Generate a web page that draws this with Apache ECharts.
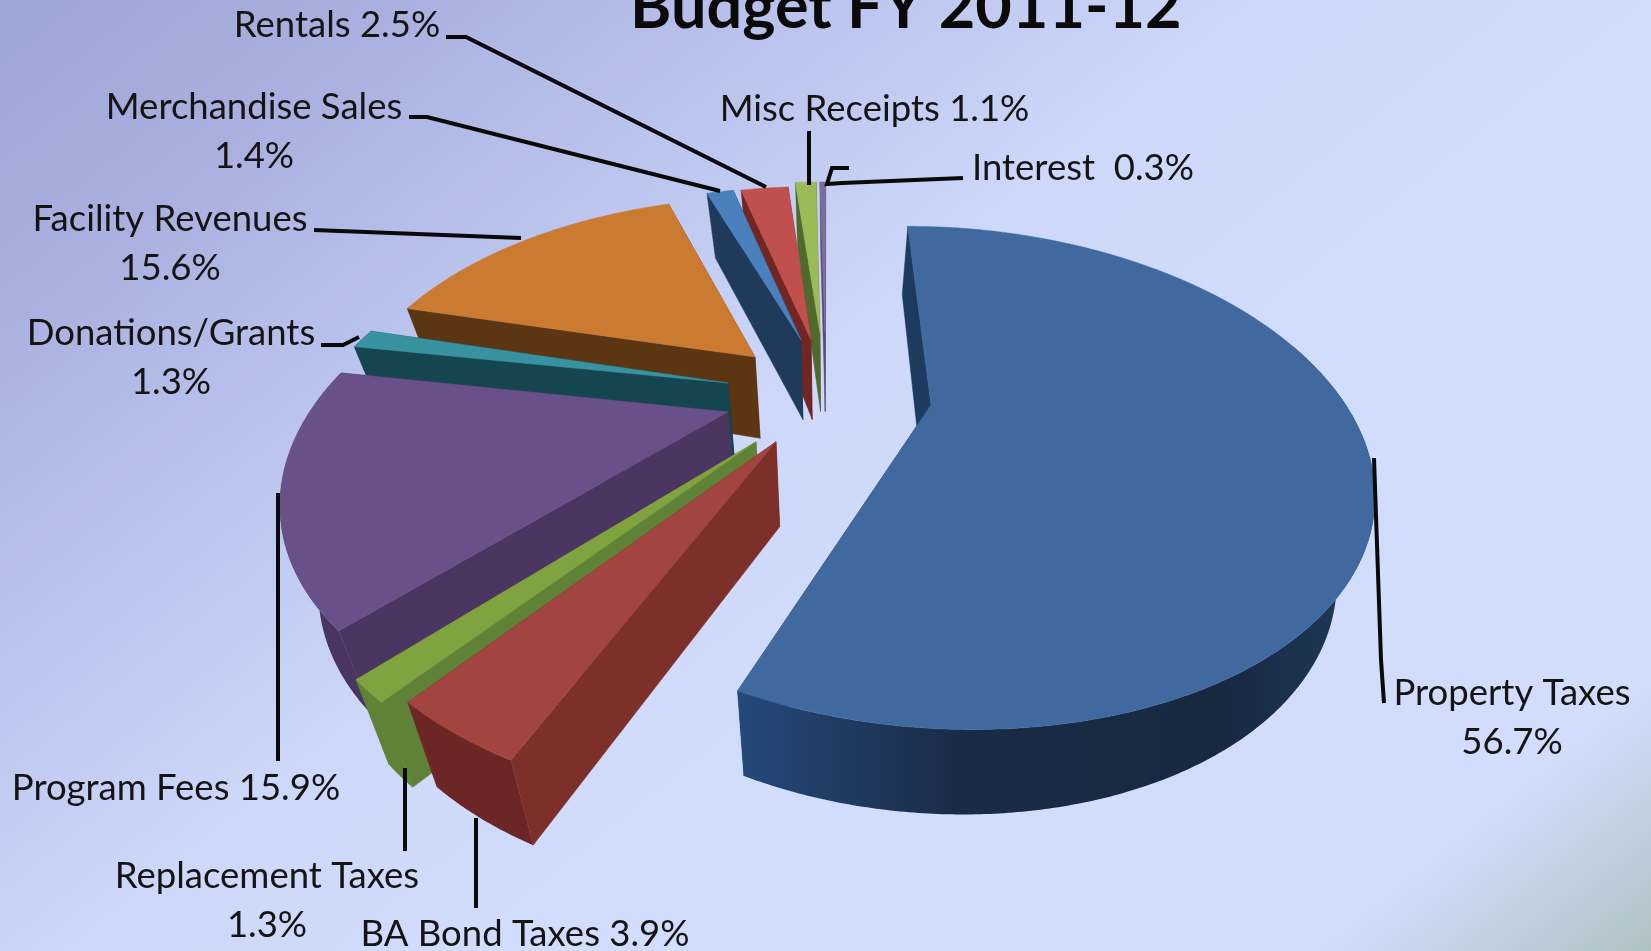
<!DOCTYPE html>
<html>
<head>
<meta charset="utf-8">
<title>Budget FY 2011-12</title>
<style>html,body{margin:0;padding:0;width:100%;height:100%;overflow:hidden}#c{width:1651px;height:951px}</style>
<script src="https://cdn.jsdelivr.net/npm/echarts@6/dist/echarts.min.js"></script>
</head>
<body>
<div id="c"></div>
<script>
// ---- data ----
const chartTitle = 'Budget FY 2011-12';
const categories = ['Property Taxes','BA Bond Taxes','Replacement Taxes','Program Fees','Donations/Grants','Facility Revenues','Merchandise Sales','Rentals','Misc Receipts','Interest'];
const values = [56.7,3.9,1.3,15.9,1.3,15.6,1.4,2.5,1.1,0.3];
const labelSeparators = ['\n',' ','\n',' ','\n','\n','\n',' ',' ','  '];

// ---- styles ----
const topColors  = ['#406a9f','#a24440','#7fa33f','#6a5088','#38929f','#cb7a32','#4a80bd','#c0504d','#9bbb59','#7d6a9f'];
const sideColors = ['#1d3a5f','#7d2f29','#5f8236','#4b3662','#154650','#5c3512','#1f3a5a','#732524','#4f6a2a','#5a4a73'];
const rimColors  = ['#1b3049','#6b2625','#5f8236','#4a3560','#154650','#5c3512','#1f3a5a','#732524','#4f6a2a','#5a4a73'];

// ---- layout: plane offset of every exploded slice, label centres, leader lines ----
const explodeX = [0.2483,-0.1198,-0.1659,-0.2390,-0.2479,-0.1873,-0.0708,-0.0446,-0.0213,-0.0079];
const explodeY = [0.0573,0.21,0.2102,0.0874,-0.0409,-0.1642,-0.2497,-0.2497,-0.2874,-0.2874];
const labelX = [1512,525,267,176,171,170,254,337,874.5,1083];
const labelY = [718,934,901,788,358,244,132,25,109,168];
const leaders = [
  [[1374,458],[1381,660],[1384,703]],
  [[476,818],[476,908]],
  [[405,768],[405,851]],
  [[278,493],[278,761]],
  [[321,345],[343,345],[359,337]],
  [[314,230],[521,238]],
  [[409,117],[427,117],[720,191]],
  [[446,37],[466,37],[766,187]],
  [[809,131],[809,185]],
  [[963,178],[842,183],[827,184],[832,168],[849,168]]
];

// ---- projection of the tilted pie ----
const CX = 828, CY = 392, RX = 408, RY = 223, K = 0.285;
function project(X, Y) {
  const w = 1 - K * Y;
  return [CX + RX * X / w, CY + RY * Y / w];
}
function dropped(p) {          // the same point on the lower face of the slice
  const h = Math.min(85, 65 + (p[1] - 195) * 0.1);
  return [p[0] + (CX - p[0]) * 0.07, p[1] + h];
}
const total = values.reduce((a, b) => a + b, 0);

function renderSlice(params, api) {
  const i = params.dataIndex;
  let before = 0;
  for (let j = 0; j < i; j++) before += values[j];
  const a0 = before / total * 360;
  const a1 = a0 + api.value(1) / total * 360;
  const ox = explodeX[i], oy = explodeY[i];
  const apex = project(ox, oy);
  const arc = [], nearArc = [];
  const steps = Math.max(2, Math.ceil((a1 - a0) * 2));
  for (let s = 0; s <= steps; s++) {
    const t = (a0 + (a1 - a0) * s / steps) * Math.PI / 180;
    const p = project(ox + Math.sin(t), oy - Math.cos(t));
    arc.push(p);
    if (-Math.cos(t) > -0.27) nearArc.push(p);
  }
  const first = arc[0], last = arc[arc.length - 1];
  const z = 10 - i;
  const children = [];
  const poly = (points, fill, zz) => children.push({type:'polygon', z2: zz, shape:{points}, style:{fill, stroke: fill, lineWidth: 0.5}});
  poly([apex, last, dropped(last), dropped(apex)], sideColors[i], z * 10);
  poly([apex, first, dropped(first), dropped(apex)], sideColors[i], z * 10 + 1);
  if (nearArc.length > 1) {
    const fill = i === 0
      ? {type:'linear', x:0, y:0, x2:1, y2:0, colorStops:[
          {offset:0, color:'#25497a'},{offset:0.35, color:'#1a2b47'},{offset:0.75, color:'#17283f'},{offset:1, color:'#1f3b5d'}]}
      : rimColors[i];
    children.push({type:'polygon', z2: z * 10 + 2,
      shape:{points: nearArc.concat(nearArc.map(dropped).reverse())}, style:{fill}});
  }
  poly([apex].concat(arc), topColors[i], z * 10 + 3);
  children.push({type:'polyline', z2: 200, shape:{points: leaders[i]},
    style:{fill:'none', stroke:'#0a0a0a', lineWidth:4}});
  children.push({type:'text', z2: 210, style:{
    text: categories[i] + labelSeparators[i] + api.value(1).toFixed(1) + '%',
    x: labelX[i], y: labelY[i], align:'center', verticalAlign:'middle',
    fontFamily:'Lato', fontSize:36.5, lineHeight:49, fill:'#141414'}});
  return {type:'group', children};
}

const chart = echarts.init(document.getElementById('c'), null, {renderer:'canvas', width:1651, height:951});
chart.setOption({
  animation:false,
  backgroundColor:{type:'linear', global:true, x:0, y:0, x2:1108, y2:1385, colorStops:[
    {offset:0, color:'#9ea5d7'},{offset:0.15, color:'#aab1e0'},{offset:0.3, color:'#bcc5ee'},
    {offset:0.45, color:'#cdd8fa'},{offset:0.6, color:'#d2ddfd'},{offset:0.88, color:'#d2ddfd'},{offset:1, color:'#b0c1c3'}]},
  title:{text:chartTitle, left:625, top:-29, textStyle:{fontFamily:'Lato', fontWeight:'bold', fontSize:63, color:'#0a0a0a'}},
  series:[{
    type:'custom', coordinateSystem:'none', silent:true, clip:false,
    renderItem:renderSlice,
    data:categories.map((c, i) => ({name:c, value:[i, values[i]]}))
  }]
});
</script>
</body>
</html>
